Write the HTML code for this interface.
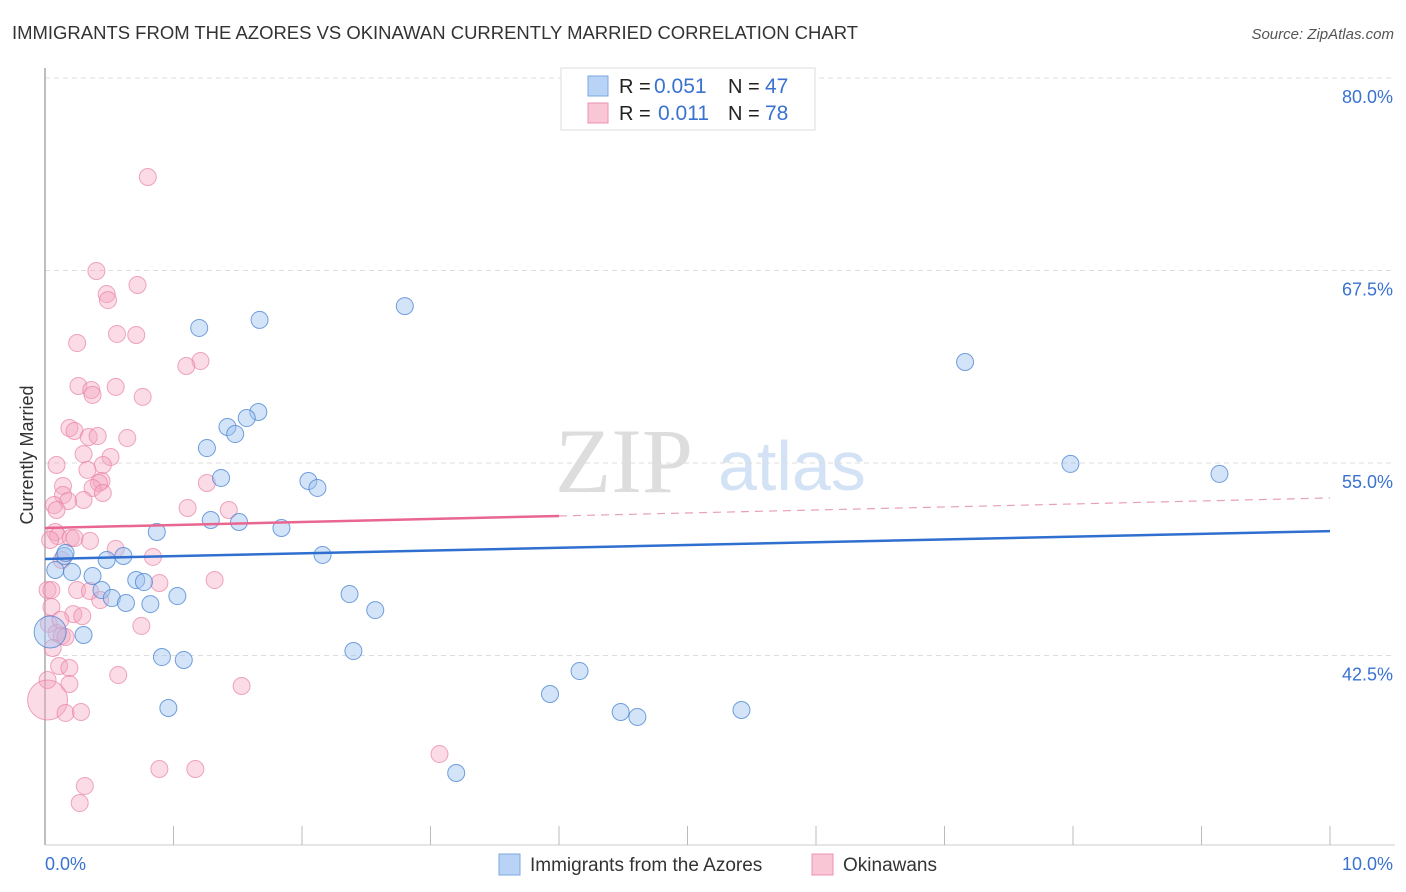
<!DOCTYPE html>
<html><head><meta charset="utf-8"><style>
body{margin:0;background:#fff;font-family:"Liberation Sans",sans-serif}
svg{display:block}
</style></head><body>
<svg id="c" width="1406" height="892">
<text x="12" y="39" font-size="18" fill="#333" textLength="846" lengthAdjust="spacingAndGlyphs">IMMIGRANTS FROM THE AZORES VS OKINAWAN CURRENTLY MARRIED CORRELATION CHART</text>
<text x="1394" y="39" font-size="15" fill="#555" font-style="italic" text-anchor="end">Source: ZipAtlas.com</text>
<text x="555" y="492" font-size="92" fill="#ddd" font-family="Liberation Serif,serif">ZIP</text>
<text x="718" y="490" font-size="70" fill="#d3e3f5">atlas</text>
<text transform="translate(33,455) rotate(-90)" font-size="18" fill="#333" text-anchor="middle">Currently Married</text>
<g id="grid"></g><g id="pts"></g><g id="lines"></g>
<g>
<rect x="561" y="68" width="254" height="62" fill="#fff" stroke="#ddd"/>
<rect x="588" y="76" width="20" height="20" fill="#b8d3f5" stroke="#7aa8e0"/>
<rect x="588" y="103" width="20" height="20" fill="#f9c6d6" stroke="#eb93b0"/>
<text x="619" y="93" font-size="20" fill="#222">R =</text>
<text x="654" y="93" font-size="21" fill="#3a72d0">0.051</text>
<text x="728" y="93" font-size="20" fill="#222">N =</text>
<text x="765" y="93" font-size="21" fill="#3a72d0">47</text>
<text x="619" y="120" font-size="20" fill="#222">R =</text>
<text x="658" y="120" font-size="21" fill="#3a72d0">0.011</text>
<text x="728" y="120" font-size="20" fill="#222">N =</text>
<text x="765" y="120" font-size="21" fill="#3a72d0">78</text>
</g>
<g>
<rect x="499" y="854" width="21" height="21" fill="#b8d3f5" stroke="#7aa8e0"/>
<text x="530" y="871" font-size="19" fill="#333">Immigrants from the Azores</text>
<rect x="812" y="854" width="21" height="21" fill="#f9c6d6" stroke="#eb93b0"/>
<text x="843" y="871" font-size="19" fill="#333">Okinawans</text>
</g>
</svg>
<script>
const yTicks=[80,67.5,55,42.5];
const yTickLabels=["80.0%","67.5%","55.0%","42.5%"];
const xTickLabels=["0.0%","10.0%"];
const blueX=[1.20,1.67,2.80,7.16,1.66,1.57,1.42,1.48,1.26,1.37,7.98,9.14,2.05,2.12,1.29,1.51,1.84,0.87,0.15,0.48,0.61,2.16,0.08,0.21,0.37,0.71,0.77,0.44,0.52,0.63,0.82,1.03,2.37,2.57,0.30,0.04,0.91,1.08,2.40,4.16,3.93,0.96,4.48,4.61,5.42,3.20,0.16];
const blueY=[63.77,64.29,65.19,61.56,58.31,57.92,57.34,56.88,55.97,54.03,54.94,54.29,53.83,53.38,51.30,51.17,50.78,50.52,48.96,48.70,48.96,49.03,48.05,47.92,47.66,47.40,47.27,46.75,46.23,45.91,45.84,46.36,46.49,45.45,43.83,44.03,42.40,42.21,42.79,41.49,40.00,39.09,38.83,38.51,38.96,34.87,49.16];
const pinkX=[0.80,0.40,0.72,0.48,0.49,0.56,0.71,0.25,1.21,1.10,0.26,0.36,0.55,0.37,0.76,0.19,0.23,0.34,0.41,0.64,0.51,0.30,0.09,0.45,0.33,0.44,0.42,1.26,0.14,0.14,0.37,0.45,0.18,0.30,0.07,1.11,1.43,0.08,0.10,0.20,0.23,0.35,0.55,0.84,0.13,0.02,0.89,1.32,0.25,0.35,0.05,0.22,0.29,0.75,0.03,0.09,0.13,0.16,0.06,0.11,0.19,0.02,0.57,0.19,1.53,0.02,0.16,0.28,1.17,0.89,3.07,0.31,0.27,0.09,0.04,0.05,0.43,0.12];
const pinkY=[73.57,67.47,66.56,65.97,65.58,63.38,63.31,62.79,61.62,61.30,60.00,59.74,59.94,59.42,59.29,57.27,57.08,56.69,56.75,56.62,55.39,55.58,54.87,54.87,54.55,53.83,53.70,53.70,53.51,52.92,53.38,53.05,52.53,52.60,52.27,52.08,51.95,50.52,50.26,50.13,50.13,49.94,49.42,48.90,48.70,46.75,47.21,47.40,46.75,46.69,45.65,45.19,45.06,44.42,44.55,43.96,43.77,43.70,42.99,41.82,41.69,40.91,41.23,40.65,40.52,39.61,38.77,38.83,35.13,35.13,36.10,34.03,32.92,51.95,50.00,46.75,46.10,44.81];
const blueBig=[35];const pinkBig=[65];
const blueTrend=[48.77,50.58];const pinkTrend=[50.78,52.73];
const X0=45,X1=1330,Y80=78,PXPER=15.4;
const sx=v=>X0+(X1-X0)*v/10;
const sy=v=>Y80+(80-v)*PXPER;
const NS="http://www.w3.org/2000/svg";
function mk(t,a,p){const e=document.createElementNS(NS,t);for(const k in a)e.setAttribute(k,a[k]);p.appendChild(e);return e;}
const grid=document.getElementById('grid');
yTicks.forEach((t,i)=>{
 const l=mk('line',{x1:X0,x2:1395,y1:sy(t),y2:sy(t),stroke:'#ddd','stroke-dasharray':'5,4'},grid);
 
 
 const tx=mk('text',{x:1393,y:sy(t)+25,'font-size':18,fill:'#3a72d0','text-anchor':'end'},grid);
 tx.textContent=yTickLabels[i];
 
 
});
const ax=mk('line',{x1:X0,x2:X0,y1:68,y2:845,stroke:'#aaa','stroke-width':1.5},grid);


const bx=mk('line',{x1:X0,x2:1395,y1:845,y2:845,stroke:'#ccc'},grid);


for(let i=1;i<=10;i++){const t=mk('line',{x1:sx(i),x2:sx(i),y1:826,y2:845,stroke:'#bbb'},grid);
 
 }
[[0,'start',X0],[10,'end',1393]].forEach((d,i)=>{const t=mk('text',{x:d[2],y:870,'font-size':18,fill:'#3a72d0','text-anchor':d[1]},grid);t.textContent=xTickLabels[i];
 
 });
const pts=document.getElementById('pts');
pinkX.forEach((x,i)=>{const c=mk('circle',{cx:sx(x),cy:sy(pinkY[i]),r:pinkBig.includes(i)?20:8.5,fill:'rgba(244,166,193,0.4)',stroke:'rgba(232,130,165,0.7)','stroke-width':1},pts);
 
 });
blueX.forEach((x,i)=>{const c=mk('circle',{cx:sx(x),cy:sy(blueY[i]),r:blueBig.includes(i)?16:8.5,fill:'rgba(160,196,240,0.45)',stroke:'rgba(70,130,210,0.75)','stroke-width':1},pts);
 
 });
const ln=document.getElementById('lines');
const b=mk('line',{x1:sx(0),y1:sy(blueTrend[0]),x2:sx(10),y2:sy(blueTrend[1]),stroke:'#2f6fd0','stroke-width':2.5},ln);


const pm=pinkTrend[0]+(pinkTrend[1]-pinkTrend[0])*0.4;
const p1=mk('line',{x1:sx(0),y1:sy(pinkTrend[0]),x2:sx(4),y2:sy(pm),stroke:'#e8668f','stroke-width':2.5},ln);


const p2=mk('line',{x1:sx(4),y1:sy(pm),x2:sx(10),y2:sy(pinkTrend[1]),stroke:'#e8a0b8','stroke-width':1.2,'stroke-dasharray':'8,6'},ln);


</script>
</body></html>
